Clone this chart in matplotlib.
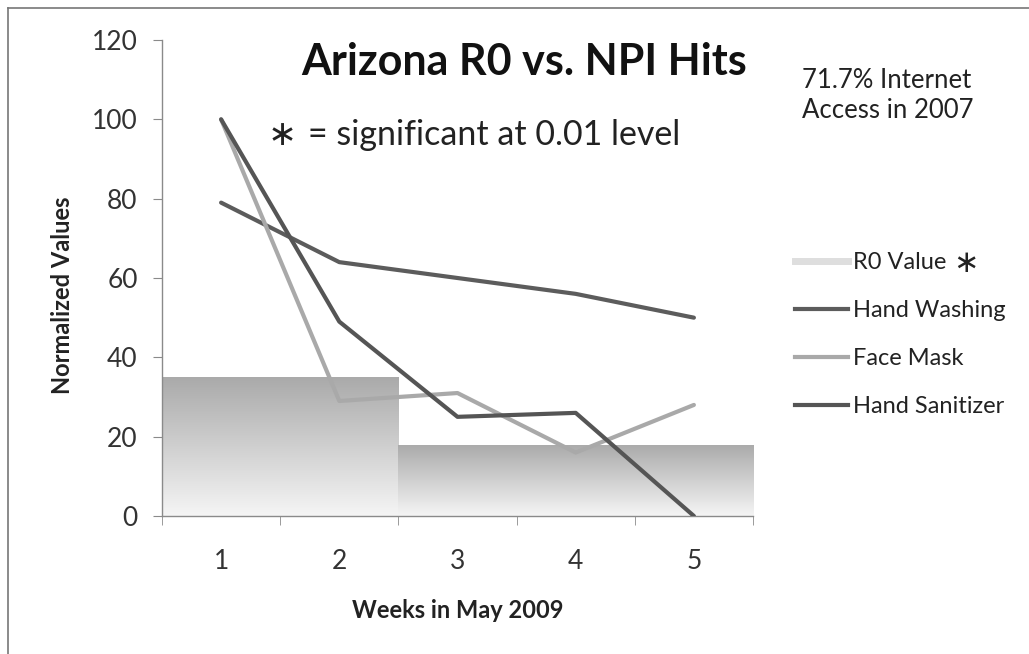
# Importando as bibliotecas necessárias
import numpy as np
import matplotlib
matplotlib.use('Agg')
import matplotlib.pyplot as plt
from matplotlib.lines import Line2D

# Dados
semanas = [1, 2, 3, 4, 5]
valores_r0 = [35, 35, 18, 18, 18]
lavar_maos = [79, 64, 60, 56, 50]
mascara = [100, 29, 31, 16, 28]
alcool_gel = [100, 49, 25, 26, 0]

rotulos_y = [0, 20, 40, 60, 80, 100, 120]
titulo = 'Arizona R0 vs. NPI Hits'
nota = '= significant at 0.01 level'
acesso = '71.7% Internet\nAccess in 2007'

plt.rcParams['font.family'] = ['Lato', 'DejaVu Sans']

fig = plt.figure(figsize=(10.29, 6.54), dpi=100)
ax = fig.add_axes([162 / 1029, 1 - 516 / 654, 591 / 1029, 476 / 654])

# Barras do R0 com degradê (escuro em cima, claro embaixo)
barras = ax.bar(semanas, valores_r0, width=1.0, color='none', edgecolor='none', zorder=1)
degrade = np.linspace(0, 1, 256).reshape(-1, 1)
cmap = matplotlib.colors.LinearSegmentedColormap.from_list('cinza', ['#f5f5f5', '#aaaaaa'])
for b in barras:
    x0, y0 = b.get_x(), b.get_y()
    im = ax.imshow(degrade, cmap=cmap, aspect='auto', origin='lower',
                   extent=(x0, x0 + b.get_width(), y0, y0 + b.get_height()), zorder=1)
    im.set_clip_path(b)

# Linhas das buscas
estilo = dict(lw=3.0, solid_capstyle='round', solid_joinstyle='round', zorder=3)
ax.plot(semanas, lavar_maos, color='#5c5c5c', **estilo)
ax.plot(semanas, mascara, color='#a9a9a9', **estilo)
ax.plot(semanas, alcool_gel, color='#555555', **estilo)

# Eixos
ax.set_xlim(0.5, 5.5)
ax.set_ylim(0, 120)
ax.set_yticks(rotulos_y)
ax.set_xticks(semanas)
ax.set_xticks([s + 0.5 for s in [0] + semanas], minor=True)
for lado in ['top', 'right']:
    ax.spines[lado].set_visible(False)
for lado in ['left', 'bottom']:
    ax.spines[lado].set_color('#8a8a8a')
    ax.spines[lado].set_linewidth(1.0)
ax.tick_params(axis='y', direction='out', length=6.5, color='#8a8a8a', pad=11,
               labelsize=19, labelcolor='#333333')
ax.tick_params(axis='x', which='major', length=0, pad=24, labelsize=19, labelcolor='#333333')
ax.tick_params(axis='x', which='minor', direction='out', length=6.5, color='#8a8a8a')
ax.set_facecolor('none')

# Textos
fig.text(62 / 1029, 1 - 295 / 654, 'Normalized Values', rotation=90, ha='center', va='center',
         fontsize=17, fontweight='bold', color='#222222')
fig.text(458 / 1029, 1 - 618 / 654, 'Weeks in May 2009', ha='center', va='baseline',
         fontsize=17, fontweight='bold', color='#222222')
fig.text(524 / 1029, 1 - 75 / 654, titulo, ha='center', va='baseline',
         fontsize=31, fontweight='bold', color='#111111')
fig.text(268 / 1029, 1 - 145 / 654, '\u2217', ha='left', va='baseline', fontsize=25,
         family=['DejaVu Sans'], color='#222222')
fig.text(308 / 1029, 1 - 145 / 654, nota, ha='left', va='baseline', fontsize=24.5, color='#222222')
fig.text(802 / 1029, 1 - 118 / 654, acesso, ha='left', va='baseline', fontsize=18.5,
         color='#222222', linespacing=1.25)

# Legenda
alcas = [Line2D([], [], color='#dedede', lw=5),
         Line2D([], [], color='#5c5c5c', lw=3.0),
         Line2D([], [], color='#a9a9a9', lw=3.0),
         Line2D([], [], color='#555555', lw=3.0)]
nomes = ['R0 Value', 'Hand Washing', 'Face Mask', 'Hand Sanitizer']
fig.legend(alcas, nomes, loc='upper left', bbox_to_anchor=(795 / 1029, 1 - 252 / 654),
           frameon=False, fontsize=17, handlelength=2.25, handletextpad=0.2,
           labelspacing=1.15, borderpad=0, borderaxespad=0, labelcolor='#222222')
fig.text(966 / 1029, 1 - 264 / 654, '\u2217', ha='center', va='center', fontsize=22,
         family=['DejaVu Sans'], color='#222222')

# Moldura (só topo e lado esquerdo aparecem)
fig.add_artist(Line2D([8 / 1029, 8 / 1029], [0, 1 - 8 / 654], color='#777777', lw=1.2))
fig.add_artist(Line2D([8 / 1029, 1], [1 - 8 / 654, 1 - 8 / 654], color='#777777', lw=1.2))

fig.savefig('out.png', dpi=100)
